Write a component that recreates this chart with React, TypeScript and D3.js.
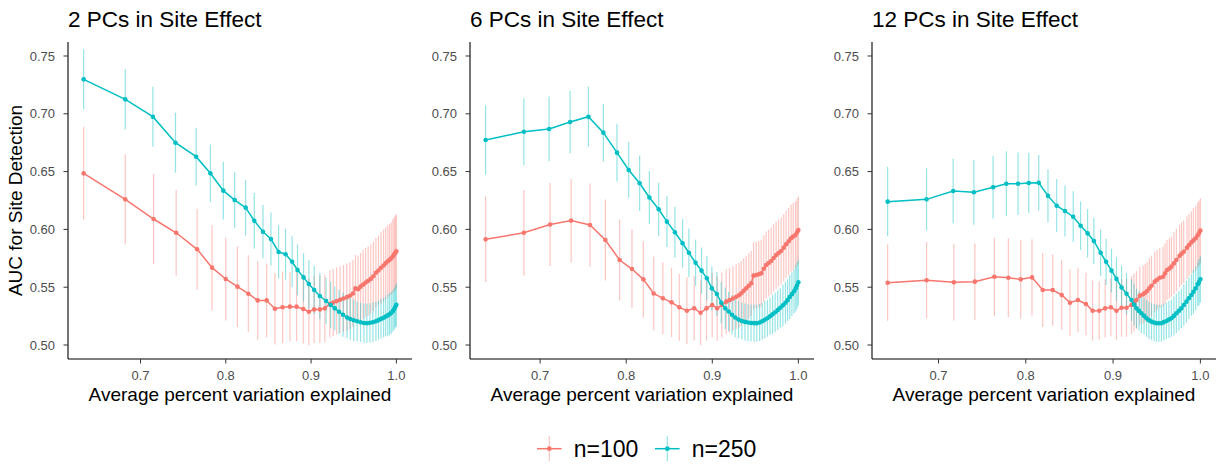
import React from 'react';
import * as d3 from 'd3';

const TITLES = ['2 PCs in Site Effect', '6 PCs in Site Effect', '12 PCs in Site Effect'];
const X_TICKS = [0.7, 0.8, 0.9, 1.0];
const Y_TICKS = [0.5, 0.55, 0.6, 0.65, 0.7, 0.75];
const SERIES_LABELS = ['n=100', 'n=250'];
const COLORS = ['#F8766D', '#00BFC4'];
const X_LABEL = 'Average percent variation explained';
const Y_LABEL = 'AUC for Site Detection';

// ---------- Panel 1: 2 PCs ----------
const p1_n100_x = [0.6333, 0.6821, 0.7153, 0.7418, 0.7664, 0.7839, 0.7999, 0.8136, 0.8264, 0.8374, 0.8479, 0.8576, 0.8666, 0.8752, 0.8830, 0.8908, 0.8974, 0.9036, 0.9103,
  0.9161, 0.9220, 0.9260, 0.9300, 0.9340, 0.9380, 0.9420, 0.9455, 0.9490, 0.9520, 0.9550, 0.9580, 0.9610, 0.9640, 0.9670, 0.9700, 0.9730, 0.9760, 0.9790, 0.9820, 0.9850, 0.9875, 0.9900, 0.9920, 0.9940, 0.9960, 0.9975, 0.9988, 1.0000];
const p1_n100_auc = [0.6485, 0.6260, 0.6090, 0.5971, 0.5828, 0.5669, 0.5571, 0.5505, 0.5444, 0.5386, 0.5386, 0.5314, 0.5326, 0.5332, 0.5332, 0.5311, 0.5288, 0.5308, 0.5308,
  0.5317, 0.5355, 0.5368, 0.5380, 0.5392, 0.5402, 0.5414, 0.5426, 0.5445, 0.5490, 0.5482, 0.5505, 0.5522, 0.5540, 0.5555, 0.5572, 0.5595, 0.5625, 0.5645, 0.5668, 0.5688, 0.5708, 0.5725, 0.5738, 0.5750, 0.5768, 0.5785, 0.5798, 0.5810];
const p1_n100_err = [0.040, 0.039, 0.039, 0.037, 0.035, 0.037, 0.036, 0.035, 0.033, 0.034, 0.032, 0.031, 0.031, 0.030, 0.030, 0.030, 0.029, 0.029, 0.029,
  0.029, 0.029, 0.029, 0.029, 0.029, 0.029, 0.029, 0.029, 0.029, 0.029, 0.029, 0.029, 0.030, 0.030, 0.030, 0.030, 0.030, 0.030, 0.030, 0.031, 0.031, 0.031, 0.031, 0.031, 0.031, 0.032, 0.032, 0.032, 0.032];

const p1_n250_x = [0.6333, 0.6821, 0.7145, 0.7410, 0.7652, 0.7819, 0.7971, 0.8104, 0.8233, 0.8334, 0.8436, 0.8529, 0.8619, 0.8701, 0.8778, 0.8841, 0.8912, 0.8974, 0.9036, 0.9103, 0.9176,
  0.9230, 0.9278, 0.9328, 0.9375, 0.9422, 0.9460, 0.9500, 0.9540, 0.9580, 0.9620, 0.9655, 0.9690, 0.9725, 0.9760, 0.9790, 0.9820, 0.9850, 0.9875, 0.9900, 0.9920, 0.9940, 0.9960, 0.9975, 0.9988, 1.0000];
const p1_n250_auc = [0.7298, 0.7125, 0.6975, 0.6750, 0.6629, 0.6485, 0.6335, 0.6254, 0.6188, 0.6075, 0.5980, 0.5917, 0.5805, 0.5785, 0.5720, 0.5649, 0.5585, 0.5528, 0.5476, 0.5424, 0.5381,
  0.5346, 0.5317, 0.5288, 0.5262, 0.5238, 0.5225, 0.5214, 0.5205, 0.5197, 0.5190, 0.5188, 0.5192, 0.5197, 0.5206, 0.5215, 0.5226, 0.5236, 0.5246, 0.5256, 0.5266, 0.5278, 0.5295, 0.5312, 0.5330, 0.5348];
const p1_n250_err = [0.026, 0.026, 0.026, 0.026, 0.025, 0.025, 0.025, 0.024, 0.024, 0.024, 0.023, 0.023, 0.023, 0.022, 0.022, 0.022, 0.021, 0.021, 0.021, 0.020, 0.020,
  0.020, 0.019, 0.019, 0.019, 0.018, 0.018, 0.018, 0.017, 0.017, 0.017, 0.017, 0.017, 0.017, 0.017, 0.017, 0.017, 0.017, 0.017, 0.018, 0.018, 0.018, 0.018, 0.018, 0.018, 0.019];

// ---------- Panel 2: 6 PCs ----------
const p2_n100_x = [0.6367, 0.6811, 0.7116, 0.7360, 0.7580, 0.7758, 0.7924, 0.8067, 0.8199, 0.8319, 0.8426, 0.8527, 0.8617, 0.8705, 0.8790, 0.8864, 0.8933, 0.8999, 0.9057, 0.9111,
  0.9162, 0.9200, 0.9240, 0.9278, 0.9310, 0.9336, 0.9365, 0.9394, 0.9425, 0.9452, 0.9480, 0.9510, 0.9540, 0.9568, 0.9598, 0.9626, 0.9655, 0.9684, 0.9713, 0.9742, 0.9770, 0.9800, 0.9830, 0.9858, 0.9888, 0.9916, 0.9940, 0.9966, 0.9985, 1.0000];
const p2_n100_auc = [0.5914, 0.5971, 0.6042, 0.6076, 0.6038, 0.5908, 0.5735, 0.5657, 0.5568, 0.5446, 0.5404, 0.5369, 0.5326, 0.5297, 0.5317, 0.5279, 0.5317, 0.5346, 0.5317, 0.5346,
  0.5375, 0.5388, 0.5402, 0.5418, 0.5430, 0.5447, 0.5470, 0.5490, 0.5512, 0.5534, 0.5600, 0.5606, 0.5612, 0.5620, 0.5660, 0.5692, 0.5710, 0.5727, 0.5752, 0.5779, 0.5796, 0.5813, 0.5842, 0.5871, 0.5898, 0.5923, 0.5938, 0.5952, 0.5975, 0.5995];
const p2_n100_err = [0.037, 0.037, 0.036, 0.036, 0.036, 0.035, 0.035, 0.034, 0.033, 0.032, 0.031, 0.030, 0.029, 0.029, 0.028, 0.028, 0.028, 0.028, 0.028, 0.028,
  0.028, 0.028, 0.028, 0.028, 0.028, 0.028, 0.028, 0.028, 0.028, 0.028, 0.029, 0.029, 0.029, 0.029, 0.029, 0.029, 0.029, 0.029, 0.029, 0.029, 0.029, 0.029, 0.029, 0.029, 0.029, 0.029, 0.029, 0.029, 0.029, 0.029];

const p2_n250_x = [0.6367, 0.6811, 0.7104, 0.7348, 0.7561, 0.7735, 0.7893, 0.8029, 0.8156, 0.8269, 0.8377, 0.8473, 0.8566, 0.8655, 0.8728, 0.8806, 0.8875, 0.8937, 0.8995, 0.9053, 0.9104,
  0.9151, 0.9190, 0.9230, 0.9266, 0.9305, 0.9344, 0.9380, 0.9415, 0.9450, 0.9485, 0.9517, 0.9550, 0.9580, 0.9610, 0.9640, 0.9670, 0.9700, 0.9730, 0.9760, 0.9790, 0.9820, 0.9850, 0.9875, 0.9900, 0.9925, 0.9950, 0.9970, 0.9985, 1.0000];
const p2_n250_auc = [0.6773, 0.6845, 0.6869, 0.6929, 0.6975, 0.6837, 0.6664, 0.6514, 0.6399, 0.6276, 0.6174, 0.6067, 0.5975, 0.5880, 0.5798, 0.5712, 0.5643, 0.5577, 0.5490, 0.5441, 0.5366,
  0.5317, 0.5290, 0.5262, 0.5238, 0.5220, 0.5208, 0.5200, 0.5195, 0.5191, 0.5189, 0.5188, 0.5195, 0.5205, 0.5218, 0.5232, 0.5248, 0.5265, 0.5283, 0.5302, 0.5322, 0.5343, 0.5365, 0.5388, 0.5415, 0.5440, 0.5465, 0.5490, 0.5515, 0.5542];
const p2_n250_err = [0.030, 0.029, 0.028, 0.027, 0.026, 0.025, 0.025, 0.024, 0.024, 0.023, 0.023, 0.022, 0.022, 0.021, 0.021, 0.020, 0.020, 0.019, 0.019, 0.019, 0.018,
  0.018, 0.017, 0.017, 0.017, 0.016, 0.016, 0.016, 0.016, 0.016, 0.016, 0.016, 0.016, 0.016, 0.016, 0.016, 0.016, 0.017, 0.017, 0.017, 0.017, 0.018, 0.018, 0.018, 0.019, 0.019, 0.019, 0.020, 0.020, 0.020];

// ---------- Panel 3: 12 PCs ----------
const p3_n100_x = [0.6417, 0.6863, 0.7176, 0.7416, 0.7640, 0.7800, 0.7942, 0.8071, 0.8194, 0.8308, 0.8411, 0.8506, 0.8597, 0.8689, 0.8765, 0.8841, 0.8909, 0.8974, 0.9039, 0.9097, 0.9154,
  0.9211, 0.9240, 0.9268, 0.9306, 0.9344, 0.9367, 0.9390, 0.9415, 0.9440, 0.9477, 0.9505, 0.9535, 0.9572, 0.9595, 0.9618, 0.9645, 0.9668, 0.9697, 0.9725, 0.9763, 0.9785, 0.9809, 0.9847, 0.9870, 0.9897, 0.9920, 0.9946, 0.9970, 0.9985, 1.0000];
const p3_n100_auc = [0.5539, 0.5560, 0.5542, 0.5548, 0.5591, 0.5582, 0.5568, 0.5585, 0.5476, 0.5476, 0.5433, 0.5366, 0.5389, 0.5355, 0.5297, 0.5297, 0.5317, 0.5326, 0.5297, 0.5322, 0.5322,
  0.5346, 0.5368, 0.5389, 0.5427, 0.5438, 0.5452, 0.5467, 0.5490, 0.5513, 0.5548, 0.5565, 0.5582, 0.5591, 0.5620, 0.5649, 0.5662, 0.5678, 0.5706, 0.5735, 0.5772, 0.5790, 0.5807, 0.5842, 0.5865, 0.5888, 0.5905, 0.5923, 0.5950, 0.5968, 0.5989];
const p3_n100_err = [0.033, 0.033, 0.033, 0.033, 0.034, 0.034, 0.034, 0.033, 0.032, 0.031, 0.030, 0.029, 0.028, 0.027, 0.026, 0.025, 0.025, 0.025, 0.025, 0.025, 0.025,
  0.025, 0.025, 0.025, 0.025, 0.025, 0.025, 0.025, 0.026, 0.026, 0.026, 0.026, 0.026, 0.026, 0.026, 0.026, 0.026, 0.026, 0.027, 0.027, 0.027, 0.027, 0.027, 0.027, 0.027, 0.027, 0.028, 0.028, 0.028, 0.028, 0.028];

const p3_n250_x = [0.6417, 0.6863, 0.7168, 0.7405, 0.7625, 0.7777, 0.7911, 0.8034, 0.8148, 0.8254, 0.8354, 0.8449, 0.8543, 0.8628, 0.8708, 0.8780, 0.8857, 0.8920, 0.8982, 0.9039, 0.9097, 0.9154,
  0.9211, 0.9240, 0.9268, 0.9297, 0.9325, 0.9355, 0.9383, 0.9410, 0.9440, 0.9470, 0.9497, 0.9525, 0.9554, 0.9582, 0.9611, 0.9640, 0.9668, 0.9697, 0.9725, 0.9755, 0.9782, 0.9810, 0.9840, 0.9868, 0.9897, 0.9920, 0.9946, 0.9970, 0.9985, 1.0000];
const p3_n250_auc = [0.6240, 0.6260, 0.6332, 0.6321, 0.6364, 0.6395, 0.6395, 0.6401, 0.6404, 0.6290, 0.6205, 0.6159, 0.6110, 0.6032, 0.5966, 0.5900, 0.5798, 0.5720, 0.5643, 0.5572, 0.5498, 0.5444,
  0.5389, 0.5350, 0.5317, 0.5295, 0.5274, 0.5252, 0.5231, 0.5215, 0.5202, 0.5194, 0.5188, 0.5188, 0.5188, 0.5198, 0.5208, 0.5220, 0.5231, 0.5252, 0.5274, 0.5296, 0.5317, 0.5346, 0.5375, 0.5404, 0.5433, 0.5460, 0.5490, 0.5525, 0.5545, 0.5568];
const p3_n250_err = [0.030, 0.027, 0.028, 0.028, 0.027, 0.028, 0.027, 0.026, 0.024, 0.023, 0.023, 0.022, 0.022, 0.021, 0.021, 0.020, 0.020, 0.020, 0.019, 0.019, 0.019, 0.018,
  0.018, 0.018, 0.017, 0.017, 0.017, 0.016, 0.016, 0.016, 0.016, 0.016, 0.016, 0.016, 0.016, 0.016, 0.016, 0.016, 0.016, 0.017, 0.017, 0.017, 0.017, 0.018, 0.018, 0.018, 0.018, 0.019, 0.019, 0.019, 0.020, 0.020];

const PANELS = [
  [[p1_n100_x, p1_n100_auc, p1_n100_err], [p1_n250_x, p1_n250_auc, p1_n250_err]],
  [[p2_n100_x, p2_n100_auc, p2_n100_err], [p2_n250_x, p2_n250_auc, p2_n250_err]],
  [[p3_n100_x, p3_n100_auc, p3_n100_err], [p3_n250_x, p3_n250_auc, p3_n250_err]],
];

// layout
const W = 1225;
const H = 464;
const PANEL_LEFT = [68, 470, 872];
const PANEL_W = 344;
const TOP = 42;
const BOTTOM = 359;
const Y_DOMAIN = [0.4879, 0.7621];
const FONT = '"Liberation Sans", Arial, Helvetica, sans-serif';

type Pt = { x: number; y: number; e: number };

function toPoints(xs: number[], ys: number[], es: number[]): Pt[] {
  const n = Math.min(xs.length, ys.length);
  const out: Pt[] = [];
  for (let i = 0; i < n; i++) out.push({ x: xs[i], y: ys[i], e: es[Math.min(i, es.length - 1)] });
  return out;
}

function Panel({ idx }: { idx: number }) {
  const left = PANEL_LEFT[idx];
  const series = PANELS[idx].map(([xs, ys, es]) => toPoints(xs, ys, es));
  const allX = series.flat().map((d) => d.x);
  const [x0, x1] = d3.extent(allX) as [number, number];
  const pad = (x1 - x0) * 0.05;
  const x = d3.scaleLinear().domain([x0 - pad, x1 + pad]).range([left, left + PANEL_W]);
  const y = d3.scaleLinear().domain(Y_DOMAIN).range([BOTTOM, TOP]);
  const line = d3.line<Pt>().x((d) => x(d.x)).y((d) => y(d.y));
  const fx = d3.format('.1f');
  const fy = d3.format('.2f');
  return (
    <g>
      <text x={left} y={27} fontSize={22.5} fill="#000" fontFamily={FONT}>{TITLES[idx]}</text>
      {/* error bars */}
      {series.map((s, si) => (
        <g key={'e' + si} stroke={COLORS[si]} strokeOpacity={0.42} strokeWidth={1.2}>
          {s.map((d, i) => (
            <line key={i} x1={x(d.x)} x2={x(d.x)} y1={y(d.y - d.e)} y2={y(d.y + d.e)} />
          ))}
        </g>
      ))}
      {/* lines and points */}
      {series.map((s, si) => (
        <g key={'l' + si}>
          <path d={line(s) || ''} fill="none" stroke={COLORS[si]} strokeWidth={1.5} />
          {s.map((d, i) => (
            <circle key={i} cx={x(d.x)} cy={y(d.y)} r={2.3} fill={COLORS[si]} />
          ))}
        </g>
      ))}
      {/* axes */}
      <line x1={left} x2={left} y1={TOP} y2={BOTTOM} stroke="#000" strokeWidth={1.1} />
      <line x1={left} x2={left + PANEL_W} y1={BOTTOM} y2={BOTTOM} stroke="#000" strokeWidth={1.1} />
      {Y_TICKS.map((t) => (
        <g key={'yt' + t}>
          <line x1={left - 4.5} x2={left} y1={y(t)} y2={y(t)} stroke="#333" strokeWidth={1} />
          <text x={left - 13} y={y(t) + 4.6} fontSize={13} textAnchor="end" fill="#4D4D4D" fontFamily={FONT}>{fy(t)}</text>
        </g>
      ))}
      {X_TICKS.map((t) => (
        <g key={'xt' + t}>
          <line x1={x(t)} x2={x(t)} y1={BOTTOM} y2={BOTTOM + 4.5} stroke="#333" strokeWidth={1} />
          <text x={x(t)} y={380} fontSize={13} textAnchor="middle" fill="#4D4D4D" fontFamily={FONT}>{fx(t)}</text>
        </g>
      ))}
      <text x={left + PANEL_W / 2} y={400.5} fontSize={19} textAnchor="middle" fill="#000" fontFamily={FONT}>{X_LABEL}</text>
    </g>
  );
}

function LegendKey({ cx, color, label }: { cx: number; color: string; label: string }) {
  const cy = 448.7;
  return (
    <g>
      <line x1={cx} x2={cx} y1={cy - 12.5} y2={cy + 12.5} stroke={color} strokeOpacity={0.42} strokeWidth={1.2} />
      <line x1={cx - 12.3} x2={cx + 12.3} y1={cy} y2={cy} stroke={color} strokeWidth={1.5} />
      <circle cx={cx} cy={cy} r={2.4} fill={color} />
      <text x={cx + 24.5} y={cy + 8.2} fontSize={23} fill="#000" fontFamily={FONT}>{label}</text>
    </g>
  );
}

export default function App() {
  return (
    <svg width={W} height={H} style={{ position: 'absolute', left: 0, top: 0, background: '#fff' }}>
      <rect x={0} y={0} width={W} height={H} fill="#fff" />
      {[0, 1, 2].map((i) => <Panel key={i} idx={i} />)}
      <text transform={`translate(21.7, ${(TOP + BOTTOM) / 2}) rotate(-90)`} fontSize={19} textAnchor="middle" fill="#000" fontFamily={FONT}>{Y_LABEL}</text>
      <LegendKey cx={549.3} color={COLORS[0]} label={SERIES_LABELS[0]} />
      <LegendKey cx={667.3} color={COLORS[1]} label={SERIES_LABELS[1]} />
    </svg>
  );
}
